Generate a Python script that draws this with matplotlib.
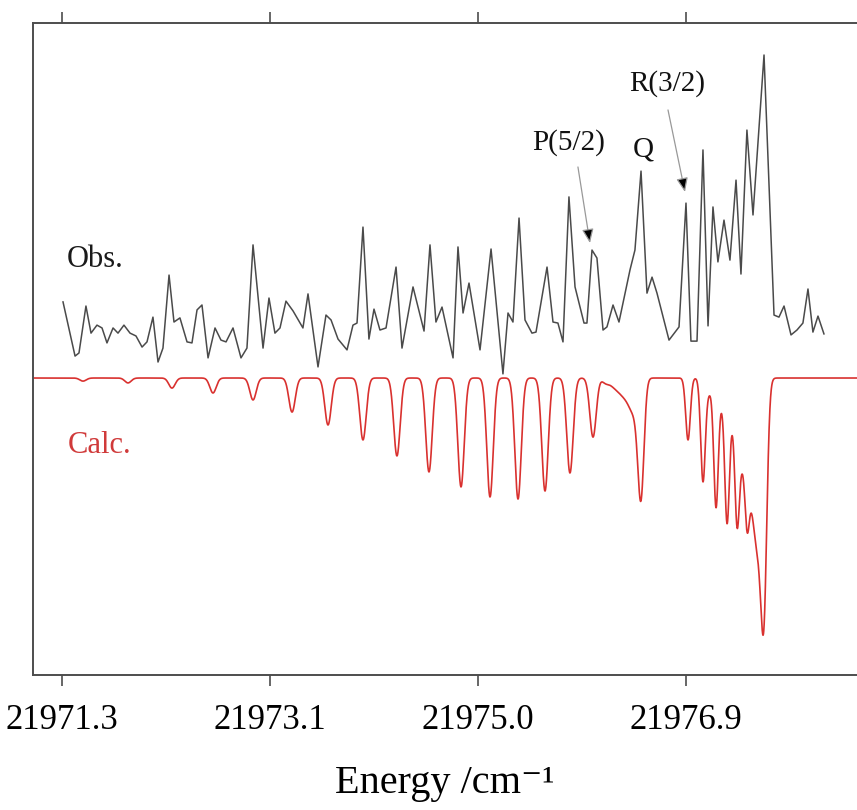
import numpy as np
import matplotlib
matplotlib.use("Agg")
import matplotlib.pyplot as plt

plt.rcParams["font.family"] = ["Liberation Serif", "DejaVu Serif"]
plt.rcParams["mathtext.fontset"] = "stix"

# ---- observed spectrum (energy in cm^-1, intensity in arb. units) ----
obs_energy = [
    21971.309, 21971.416, 21971.451, 21971.513, 21971.558, 21971.611, 21971.656,
    21971.700, 21971.754, 21971.798, 21971.851, 21971.905, 21971.958, 21972.012,
    21972.056, 21972.109, 21972.154, 21972.198, 21972.252, 21972.296, 21972.349,
    21972.412, 21972.456, 21972.501, 21972.545, 21972.599, 21972.661, 21972.714,
    21972.759, 21972.821, 21972.892, 21972.945, 21972.999, 21973.088, 21973.141,
    21973.194, 21973.239, 21973.292, 21973.355, 21973.443, 21973.488, 21973.577,
    21973.648, 21973.693, 21973.755, 21973.835, 21973.888, 21973.924, 21973.977,
    21974.030, 21974.075, 21974.128, 21974.182, 21974.271, 21974.324, 21974.422,
    21974.520, 21974.573, 21974.626, 21974.680, 21974.778, 21974.822, 21974.867,
    21974.920, 21975.018, 21975.116, 21975.222, 21975.267, 21975.311, 21975.365,
    21975.418, 21975.480, 21975.516, 21975.614, 21975.667, 21975.711, 21975.756,
    21975.809, 21975.863, 21975.943, 21975.969, 21976.014, 21976.058, 21976.112,
    21976.147, 21976.201, 21976.254, 21976.352, 21976.396, 21976.450, 21976.503,
    21976.548, 21976.592, 21976.699, 21976.788, 21976.850, 21976.894, 21976.948,
    21977.001, 21977.046, 21977.090, 21977.134, 21977.188, 21977.241, 21977.295,
    21977.339, 21977.392, 21977.446, 21977.544, 21977.633, 21977.677, 21977.722,
    21977.784, 21977.837, 21977.890, 21977.935, 21977.979, 21978.024, 21978.077,
]
obs_intensity = [
    29.5, 8.5, 9.7, 27.9, 17.4, 20.5, 19.4,
    13.6, 19.4, 17.4, 20.5, 17.4, 16.3, 12.0,
    14.0, 23.6, 6.2, 11.6, 39.9, 21.7, 23.3,
    14.0, 13.6, 26.4, 28.3, 7.8, 19.4, 14.7,
    14.0, 19.4, 7.8, 11.6, 51.6, 11.6, 31.0,
    17.4, 19.4, 29.8, 26.0, 19.4, 32.6, 4.3,
    24.4, 22.5, 15.1, 10.9, 20.5, 21.3, 58.5,
    15.1, 26.7, 18.6, 19.4, 43.0, 11.6, 35.3,
    18.2, 51.6, 21.7, 27.5, 7.8, 50.8, 25.2,
    36.8, 10.9, 50.0, 1.6, 25.2, 21.7, 62.0,
    22.5, 17.4, 17.8, 43.0, 21.7, 21.3, 14.0,
    70.2, 35.3, 21.3, 21.3, 49.6, 46.5, 18.6,
    19.8, 28.3, 21.7, 41.9, 49.6, 80.2, 32.9,
    39.1, 32.9, 14.7, 19.8, 67.8, 14.3, 14.3,
    88.4, 20.2, 66.3, 45.0, 61.2, 45.7, 76.7,
    40.3, 96.1, 63.2, 125.2, 24.4, 23.6, 27.9,
    16.7, 18.6, 21.3, 34.5, 17.8, 24.0, 17.1,
]

# ---- calculated line list: position (cm^-1), depth, gaussian width (cm^-1) ----
calc_pos = [
    # P branch
    21971.487, 21971.887, 21972.278, 21972.643, 21972.999, 21973.346,
    21973.666, 21973.977, 21974.279, 21974.564, 21974.849, 21975.107,
    21975.356, 21975.596, 21975.818, 21976.023,
    # Q branch
    21976.129, 21976.165, 21976.201, 21976.236, 21976.272, 21976.307,
    21976.343, 21976.378, 21976.414, 21976.450,
    # R branch
    21976.868, 21977.001, 21977.054, 21977.117, 21977.170, 21977.215,
    21977.259, 21977.304, 21977.348, 21977.392,
    # R head
    21977.410, 21977.437, 21977.463, 21977.490, 21977.517, 21977.544,
]
calc_depth = [
    1.2, 1.9, 3.9, 5.8, 8.5, 13.2,
    18.2, 24.0, 30.2, 36.4, 42.2, 46.1,
    46.9, 43.8, 36.8, 22.9,
    1.6, 1.2, 1.9, 2.7, 3.5, 4.3,
    5.8, 7.8, 7.8, 44.2,
    24.0, 39.5, 5.4, 48.8, 8.1, 51.2,
    12.8, 47.7, 27.9, 32.9,
    17.4, 19.4, 25.2, 31.0, 19.4, 80.5,
]
calc_width = (
    [0.0285] * 16
    + [0.0267] * 10
    + [0.0205, 0.0205, 0.0267, 0.0205, 0.0267, 0.0205,
       0.0267, 0.0205, 0.0267, 0.0205]
    + [0.0267] * 6
)

tick_pos = [21971.3, 21973.15, 21975.0, 21976.85]
tick_labels = ["21971.3", "21973.1", "21975.0", "21976.9"]

x_min, x_max = 21971.042, 21978.371
y_min, y_max = -115.1, 137.6

# ---- figure ----
fig = plt.figure(figsize=(8.57, 8.10), dpi=100)
ax = fig.add_axes([0.0385, 0.1667, 0.9615, 0.8049])

# simulated spectrum as a sum of gaussian lines, drawn downward
grid = np.linspace(x_min, x_max, 6000)
calc = np.zeros_like(grid)
for p, d, w in zip(calc_pos, calc_depth, calc_width):
    calc += d * np.exp(-0.5 * ((grid - p) / w) ** 2)

ax.plot(obs_energy, obs_intensity, color="#4a4a4a", lw=1.1, zorder=3)
ax.plot(grid, -calc, color="#d9312f", lw=1.2, zorder=2)

ax.set_xlim(x_min, x_max)
ax.set_ylim(y_min, y_max)

ax.text(21971.344, 46, "Obs.", fontsize=22, color="#1a1a1a", ha="left", va="center")
ax.text(21971.353, -26, "Calc.", fontsize=22, color="#d03a3a", ha="left", va="center")

# band labels with arrows
ax.text(21975.809, 91.1, "P(5/2)", fontsize=21, ha="center", va="center", color="#111")
ax.text(21976.467, 88.4, "Q", fontsize=21, ha="center", va="center", color="#111")
ax.text(21976.681, 114.3, "R(3/2)", fontsize=21, ha="center", va="center", color="#111")
arrow_kw = dict(arrowstyle="-|>,head_length=0.85,head_width=0.35",
                edgecolor="#999999", facecolor="black", lw=0.9,
                shrinkA=0, shrinkB=0)
ax.annotate("", xy=(21975.996, 52.3), xytext=(21975.889, 81.8), arrowprops=arrow_kw)
ax.annotate("", xy=(21976.841, 72.1), xytext=(21976.690, 103.9), arrowprops=arrow_kw)

# axes styling
for side in ("left", "top", "bottom"):
    ax.spines[side].set_color("#4d4d4d")
    ax.spines[side].set_linewidth(1.4)
ax.spines["right"].set_visible(False)
ax.set_yticks([])
ax.set_xticks(tick_pos)
ax.set_xticklabels(tick_labels, fontsize=25)
ax.tick_params(axis="x", direction="out", length=8, width=1.2, color="#4d4d4d",
               top=True, bottom=True, labeltop=False, pad=13)
ax.set_xlabel("Energy /cm\u207b\u00b9", fontsize=29, labelpad=20)

fig.savefig("out.png", dpi=100)
